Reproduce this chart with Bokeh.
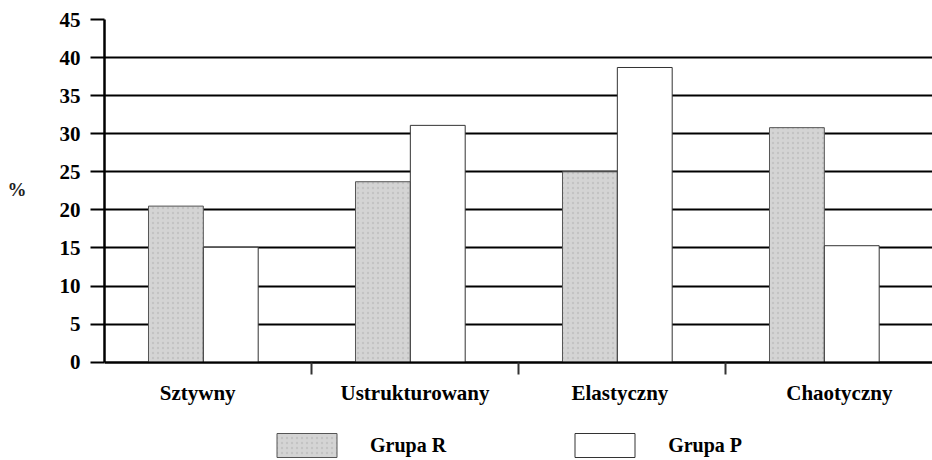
import numpy as np
from bokeh.plotting import figure
from bokeh.models import Range1d, FixedTicker, Legend, LegendItem, ColumnDataSource
from bokeh.core.properties import value
from bokeh.embed import file_html
from bokeh.resources import INLINE

# ---- data ----
categories = ["Sztywny", "Ustrukturowany", "Elastyczny", "Chaotyczny"]
grupa_r = [20.5, 23.7, 25.0, 30.8]
grupa_p = [15.1, 31.1, 38.7, 15.3]
y_ticks = [0, 5, 10, 15, 20, 25, 30, 35, 40, 45]
series_names = ["Grupa R", "Grupa P"]
y_title = "%"

# ---- style ----
FONT = "Liberation Serif"
R_OFF, P_OFF, BAR_W = 0.345, 0.61, 0.265
LABEL_DX = [-0.05, 0.0, -0.01, 0.05]
LABEL_Y = -4.1          # baseline of category names, below the zero line
Y_START = -12.9         # frame extends below zero to hold names and legend

n = len(categories)
idx = np.arange(n)
src = ColumnDataSource(dict(x_r=idx + R_OFF, x_p=idx + P_OFF, r=grupa_r, p=grupa_p))

p = figure(width=932, height=460, x_range=Range1d(0, n), y_range=Range1d(Y_START, y_ticks[-1]),
           output_backend="svg", toolbar_location=None,
           min_border_left=104, min_border_right=0, min_border_top=19, min_border_bottom=0)
p.outline_line_color = None
p.background_fill_color = "white"

rr = p.vbar(x="x_r", top="r", width=BAR_W, source=src, fill_color="#d4d4d4",
            line_color="#555555", line_width=1,
            hatch_pattern=".", hatch_color="#b5b5b5", hatch_scale=5, hatch_weight=1, hatch_alpha=0.6)
rp = p.vbar(x="x_p", top="p", width=BAR_W, source=src, fill_color="white",
            line_color="#333333", line_width=1)

# grid
p.xgrid.visible = False
p.ygrid.ticker = FixedTicker(ticks=y_ticks[:-1])
p.ygrid.grid_line_color = "black"
p.ygrid.grid_line_width = 2

# y axis
p.yaxis.ticker = FixedTicker(ticks=y_ticks)
p.yaxis.bounds = (0, y_ticks[-1])
p.yaxis.major_tick_out = 14
p.yaxis.major_tick_in = 0
p.yaxis.minor_tick_line_color = None
p.yaxis.major_tick_line_width = 2
p.yaxis.major_tick_line_color = "black"
p.yaxis.axis_line_width = 2.5
p.yaxis.axis_line_color = "black"
p.yaxis.major_label_standoff = 10
p.yaxis.major_label_text_font = FONT
p.yaxis.major_label_text_font_style = "bold"
p.yaxis.major_label_text_font_size = "21px"
p.yaxis.major_label_text_color = "black"
# blank lines below the symbol lift it to the middle of the 0-45 scale
p.yaxis.axis_label = y_title + "\n \n \n \n "
p.yaxis.axis_label_orientation = "horizontal"
p.yaxis.axis_label_standoff = 30
p.yaxis.axis_label_text_font = FONT
p.yaxis.axis_label_text_font_style = "bold"
p.yaxis.axis_label_text_font_size = "19px"
p.yaxis.axis_label_text_color = "#222222"

# x axis at zero: only boundary marks between categories
p.xaxis.fixed_location = 0
p.xaxis.ticker = FixedTicker(ticks=[], minor_ticks=list(range(1, n)))
p.xaxis.major_tick_out = 0
p.xaxis.major_tick_in = 0
p.xaxis.major_label_standoff = 0
p.xaxis.minor_tick_out = 12
p.xaxis.minor_tick_in = 0
p.xaxis.minor_tick_line_width = 2
p.xaxis.minor_tick_line_color = "#333333"
p.xaxis.axis_line_width = 2
p.xaxis.axis_line_color = "black"

# category names
label_pos = [i + 0.5 + LABEL_DX[i] for i in range(n)]
p.text(x=label_pos, y=[LABEL_Y] * n, text=categories, text_align="center",
       text_baseline="alphabetic", text_font=value(FONT), text_font_style="bold",
       text_font_size="21px", text_color="black")

legend = Legend(items=[LegendItem(label=series_names[0], renderers=[rr]),
                       LegendItem(label=series_names[1], renderers=[rp])],
                location=(165, 0), orientation="horizontal",
                glyph_width=75, glyph_height=30, label_standoff=26, spacing=121,
                padding=0, margin=0, border_line_color=None, background_fill_alpha=0,
                label_text_font=FONT, label_text_font_style="bold",
                label_text_font_size="20px", label_text_color="black")
p.add_layout(legend)

open("out.html", "w").write(file_html(p, INLINE))
